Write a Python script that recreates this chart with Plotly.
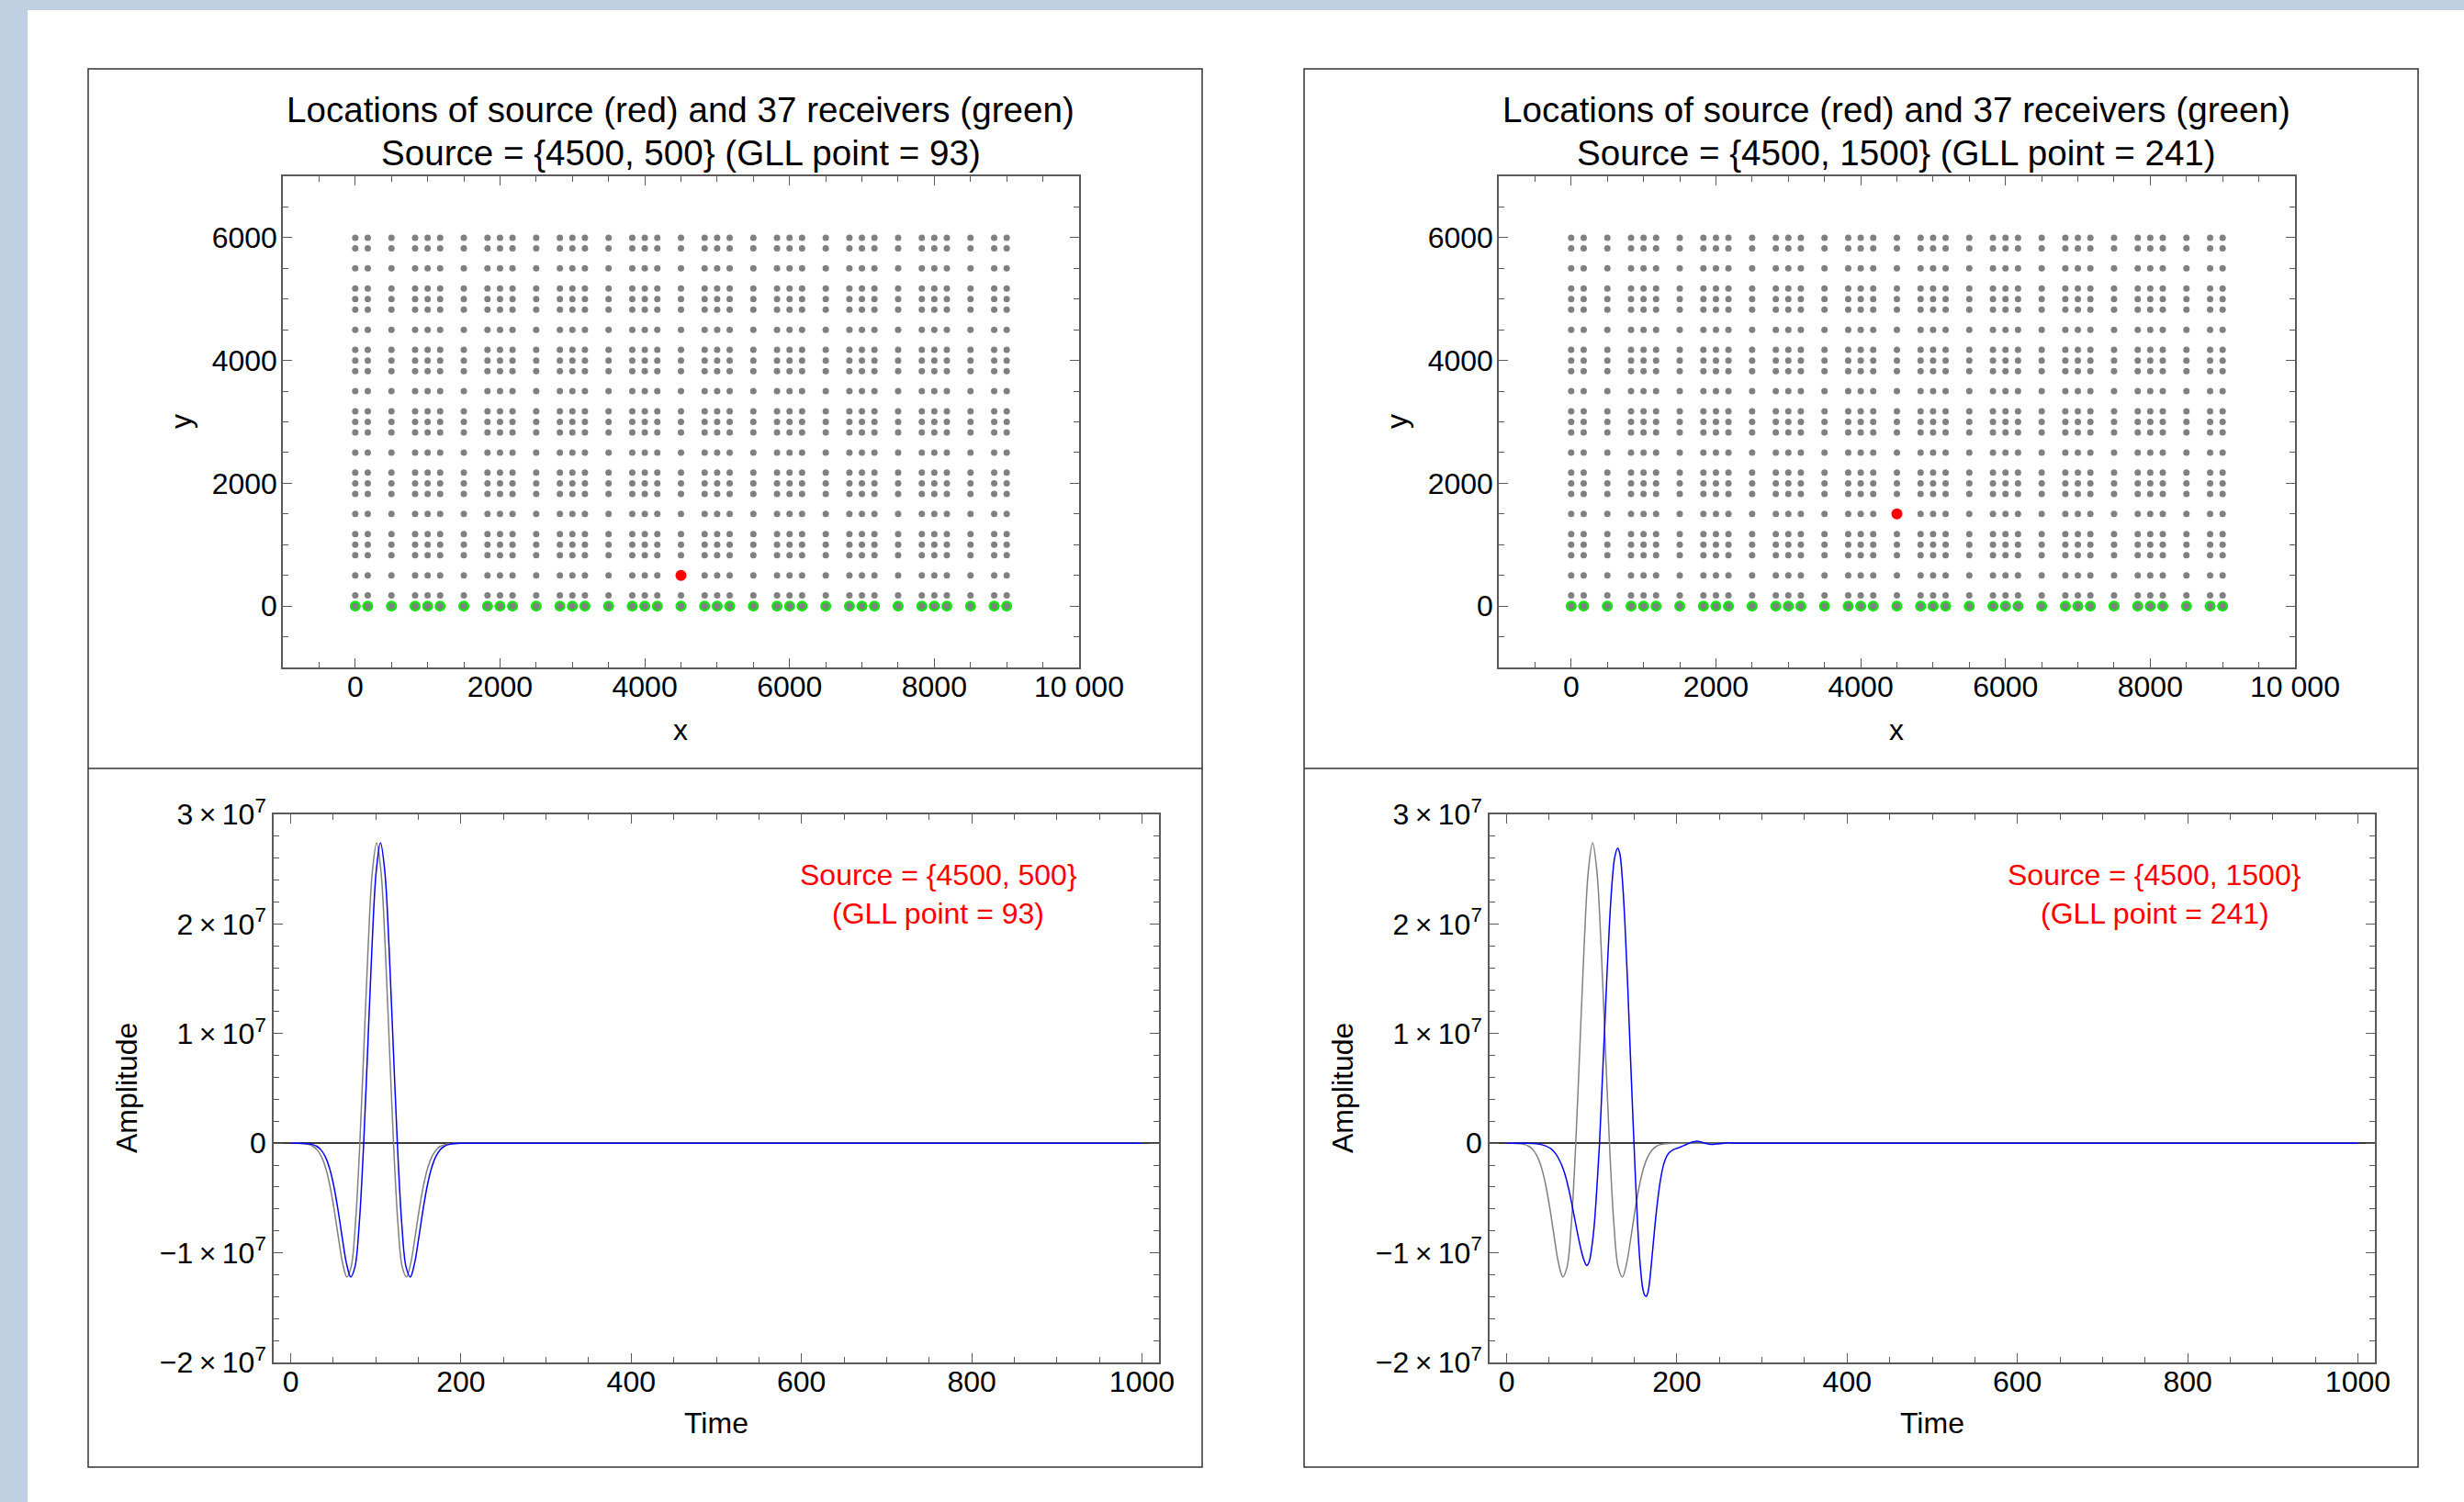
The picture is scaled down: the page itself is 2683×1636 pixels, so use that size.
import plotly.graph_objects as go

W, H = 2683, 1636
FONT = "Liberation Sans, Arial, Helvetica, sans-serif"

# ---------------- data: GLL mesh, receivers, sources ----------------
x_nodes = [0, 173, 500, 827, 1000, 1173, 1500, 1827, 2000, 2173, 2500, 2827,
           3000, 3173, 3500, 3827, 4000, 4173, 4500, 4827, 5000, 5173, 5500,
           5827, 6000, 6173, 6500, 6827, 7000, 7173, 7500, 7827, 8000, 8173,
           8500, 8827, 9000]
y_nodes = [0, 173, 500, 827, 1000, 1173, 1500, 1827, 2000, 2173, 2500, 2827,
           3000, 3173, 3500, 3827, 4000, 4173, 4500, 4827, 5000, 5173, 5500,
           5827, 6000]
receiver_x = x_nodes
receiver_y = [0] * 37
source_left = [4500, 500]
source_right = [4500, 1500]
gll_left = 93
gll_right = 241

# ---------------- data: seismograms ----------------
gray_t = [0, 1, 6, 11, 16, 21, 26, 31, 36, 41, 46, 51, 56, 61, 66, 71, 76, 81,
          86, 91, 96, 101, 106, 111, 116, 121, 126, 131, 136, 141, 146, 151,
          156, 161, 166, 171, 176, 181, 186, 191, 196, 201, 1000]
gray_amp = [0, -0.0002e7, -0.0006e7, -0.0017e7, -0.0047e7, -0.0118e7, -0.0276e7,
            -0.0601e7, -0.1210e7, -0.2252e7, -0.3856e7, -0.6042e7, -0.8594e7,
            -1.0951e7, -1.2202e7, -1.1284e7, -0.7374e7, -0.0378e7, 0.8724e7,
            1.794e7, 2.484e7, 2.74e7, 2.484e7, 1.794e7, 0.8724e7, -0.0378e7,
            -0.7374e7, -1.1284e7, -1.2202e7, -1.0951e7, -0.8594e7, -0.6042e7,
            -0.3856e7, -0.2252e7, -0.1210e7, -0.0601e7, -0.0276e7, -0.0118e7,
            -0.0047e7, -0.0017e7, -0.0006e7, -0.0002e7, 0]

blue_left_t = [0, 5.5, 10.5, 15.5, 20.5, 25.5, 30.5, 35.5, 40.5, 45.5, 50.5,
               55.5, 60.5, 65.5, 70.5, 75.5, 80.5, 85.5, 90.5, 95.5, 100.5,
               105.5, 110.5, 115.5, 120.5, 125.5, 130.5, 135.5, 140.5, 145.5,
               150.5, 155.5, 160.5, 165.5, 170.5, 175.5, 180.5, 185.5, 190.5,
               195.5, 200.5, 205.5, 1000]
blue_left_amp = [0, -0.0002e7, -0.0006e7, -0.0017e7, -0.0047e7, -0.0118e7, -0.0276e7,
                 -0.0601e7, -0.1210e7, -0.2252e7, -0.3856e7, -0.6042e7, -0.8594e7,
                 -1.0951e7, -1.2202e7, -1.1284e7, -0.7374e7, -0.0378e7, 0.8724e7,
                 1.794e7, 2.484e7, 2.74e7, 2.484e7, 1.794e7, 0.8724e7, -0.0378e7,
                 -0.7374e7, -1.1284e7, -1.2202e7, -1.0951e7, -0.8594e7, -0.6042e7,
                 -0.3856e7, -0.2252e7, -0.1210e7, -0.0601e7, -0.0276e7, -0.0118e7,
                 -0.0047e7, -0.0017e7, -0.0006e7, -0.0002e7, 0]

blue_right_t = [0, 20, 35, 45, 52, 58, 63, 68, 73, 78, 83, 88, 91, 94, 97, 100,
                103, 106, 109, 112, 115, 118, 121, 124, 127, 130.5, 133, 136, 139,
                142, 145, 148, 151, 154, 157, 160, 162, 164, 166, 168, 171, 174,
                177, 180, 183, 186, 190, 195, 200, 205, 210, 215, 220, 224, 228,
                233, 238, 243, 248, 255, 262, 270, 1000]
blue_right_amp = [0, 0, -0.004e7, -0.022e7, -0.05e7, -0.10e7, -0.17e7, -0.27e7,
                  -0.42e7, -0.61e7, -0.81e7, -0.99e7, -1.07e7, -1.116e7, -1.08e7,
                  -0.95e7, -0.74e7, -0.41e7, -0.02e7, 0.50e7, 1.02e7, 1.56e7,
                  2.03e7, 2.39e7, 2.61e7, 2.692e7, 2.64e7, 2.40e7, 2.00e7, 1.48e7,
                  0.88e7, 0.30e7, -0.26e7, -0.76e7, -1.12e7, -1.33e7, -1.385e7,
                  -1.397e7, -1.36e7, -1.26e7, -1.02e7, -0.77e7, -0.55e7, -0.37e7,
                  -0.24e7, -0.155e7, -0.095e7, -0.062e7, -0.046e7, -0.032e7,
                  -0.015e7, 0.002e7, 0.014e7, 0.018e7, 0.012e7, 0.0, -0.008e7,
                  -0.010e7, -0.006e7, 0.0, 0.003e7, 0.0, 0.0]

top_xticks = [0, 2000, 4000, 6000, 8000, 10000]
top_xticktext = ["0", "2000", "4000", "6000", "8000", "10 000"]
top_yticks = [0, 2000, 4000, 6000]
bot_xticks = [0, 200, 400, 600, 800, 1000]
bot_yticks = [-2e7, -1e7, 0, 1e7, 2e7, 3e7]
bot_yticktext = ["\u22122\u2009\u00d7\u200910<sup>7</sup>", "\u22121\u2009\u00d7\u200910<sup>7</sup>", "0",
                 "1\u2009\u00d7\u200910<sup>7</sup>", "2\u2009\u00d7\u200910<sup>7</sup>",
                 "3\u2009\u00d7\u200910<sup>7</sup>"]


# ---------------- helpers ----------------
def px(v):
    return v / W


def py(v):
    return 1 - v / H


grid_x = [xv for yv in y_nodes for xv in x_nodes]
grid_y = [yv for yv in y_nodes for xv in x_nodes]

FRAME_C = "#5a5a5a"
TICK_FONT = dict(size=32, color="black", family=FONT)


def axis(domain, rng, tickvals, ticktext, minor_dtick, anchor, zeroline=False, standoff=0):
    return dict(
        domain=domain, range=rng, anchor=anchor, automargin=False,
        showline=True, linecolor=FRAME_C, linewidth=1.5, mirror="allticks",
        ticks="inside", ticklen=10, tickwidth=1.2, tickcolor=FRAME_C,
        tickmode="array", tickvals=tickvals, ticktext=ticktext,
        tickfont=TICK_FONT, showgrid=False, ticklabelstandoff=standoff,
        zeroline=zeroline, zerolinecolor="#3a3a3a", zerolinewidth=1.5,
        minor=dict(dtick=minor_dtick, tick0=0, ticks="inside", ticklen=6,
                   tickwidth=1.0, tickcolor=FRAME_C, showgrid=False),
        fixedrange=True,
    )


fig = go.Figure()

# top panels: mesh points, receivers, source
for src, ax in [(source_left, ""), (source_right, "2")]:
    xa, ya = "x" + ax, "y" + ax
    fig.add_trace(go.Scatter(x=receiver_x, y=receiver_y, mode="markers",
                             marker=dict(size=12, color="#14e614", line=dict(width=0)),
                             xaxis=xa, yaxis=ya, showlegend=False))
    fig.add_trace(go.Scatter(x=grid_x, y=grid_y, mode="markers",
                             marker=dict(size=7, color="#808080", line=dict(width=0)),
                             xaxis=xa, yaxis=ya, showlegend=False))
    fig.add_trace(go.Scatter(x=[src[0]], y=[src[1]], mode="markers",
                             marker=dict(size=12, color="#ff0000", line=dict(width=0)),
                             xaxis=xa, yaxis=ya, showlegend=False))

# bottom panels: seismograms
for (bt, ba, ax) in [(blue_left_t, blue_left_amp, "3"), (blue_right_t, blue_right_amp, "4")]:
    fig.add_trace(go.Scatter(x=gray_t, y=gray_amp, mode="lines",
                             line=dict(color="#808080", width=1.5, shape="spline", smoothing=1),
                             xaxis="x" + ax, yaxis="y" + ax, showlegend=False))
    fig.add_trace(go.Scatter(x=bt, y=ba, mode="lines",
                             line=dict(color="#0000ff", width=1.5, shape="spline", smoothing=1),
                             xaxis="x" + ax, yaxis="y" + ax, showlegend=False))

OFF = 1324  # horizontal offset between left and right columns
XS = -8     # x tick labels closer to frame
YS = -2     # y tick labels closer to frame

layout = dict(
    width=W, height=H, autosize=False,
    margin=dict(l=0, r=0, t=0, b=0, pad=0, autoexpand=False),
    paper_bgcolor="white", plot_bgcolor="white",
    font=dict(family=FONT, size=32, color="black"),
    showlegend=False,
    xaxis=axis([px(308), px(1175)], [-1000, 10000], top_xticks, top_xticktext, 500, "y", standoff=XS),
    yaxis=axis([py(727), py(192)], [-1000, 7000], top_yticks, [str(v) for v in top_yticks], 500, "x", standoff=YS),
    xaxis2=axis([px(308 + OFF), px(1175 + OFF)], [-1000, 10000], top_xticks, top_xticktext, 500, "y2", standoff=XS),
    yaxis2=axis([py(727), py(192)], [-1000, 7000], top_yticks, [str(v) for v in top_yticks], 500, "x2", standoff=YS),
    xaxis3=axis([px(298), px(1262)], [-20, 1020], bot_xticks, [str(v) for v in bot_xticks], 50, "y3", standoff=XS),
    yaxis3=axis([py(1484), py(887)], [-2e7, 3e7], bot_yticks, bot_yticktext, 2e6, "x3", zeroline=True, standoff=0),
    xaxis4=axis([px(298 + OFF), px(1262 + OFF)], [-20, 1020], bot_xticks, [str(v) for v in bot_xticks], 50, "y4", standoff=XS),
    yaxis4=axis([py(1484), py(887)], [-2e7, 3e7], bot_yticks, bot_yticktext, 2e6, "x4", zeroline=True, standoff=0),
)

shapes = [
    dict(type="rect", xref="paper", yref="paper", x0=0, x1=px(30), y0=0, y1=1,
         fillcolor="#bfd0e2", line=dict(width=0), layer="below"),
    dict(type="rect", xref="paper", yref="paper", x0=0, x1=1, y0=py(11), y1=1,
         fillcolor="#bfd0e2", line=dict(width=0), layer="below"),
]
for off in (0, OFF):
    shapes.append(dict(type="rect", xref="paper", yref="paper",
                       x0=px(96 + off), x1=px(1309 + off), y0=py(1598), y1=py(75),
                       line=dict(color="#333333", width=1.5), fillcolor="rgba(0,0,0,0)"))
    shapes.append(dict(type="line", xref="paper", yref="paper",
                       x0=px(96 + off), x1=px(1309 + off), y0=py(837), y1=py(837),
                       line=dict(color="#333333", width=1.5)))
layout["shapes"] = shapes

annots = []
for off, src, gll in ((0, source_left, gll_left), (OFF, source_right, gll_right)):
    def ann(x, y, text, size=32, color="black", angle=0):
        annots.append(dict(xref="paper", yref="paper", x=px(x + off), y=py(y),
                           text=text, showarrow=False, xanchor="center", yanchor="middle",
                           textangle=angle, font=dict(size=size, color=color, family=FONT)))
    ann(741, 119, "Locations of source (red) and 37 receivers (green)", size=38.6)
    ann(741, 167, "Source = {%d, %d} (GLL point = %d)" % (src[0], src[1], gll), size=38.6)
    ann(741, 795, "x")
    ann(197, 459, "y", angle=-90)
    ann(780, 1550, "Time")
    ann(138, 1185, "Amplitude", angle=-90)
    ann(1022, 953, "Source = {%d, %d}" % (src[0], src[1]), color="#ff0000")
    ann(1022, 995, "(GLL point = %d)" % gll, color="#ff0000")
layout["annotations"] = annots

fig.update_layout(**layout)
fig.write_html("out.html", config={"displayModeBar": False},
               post_script="document.body.style.margin='0';document.body.style.padding='0';")
